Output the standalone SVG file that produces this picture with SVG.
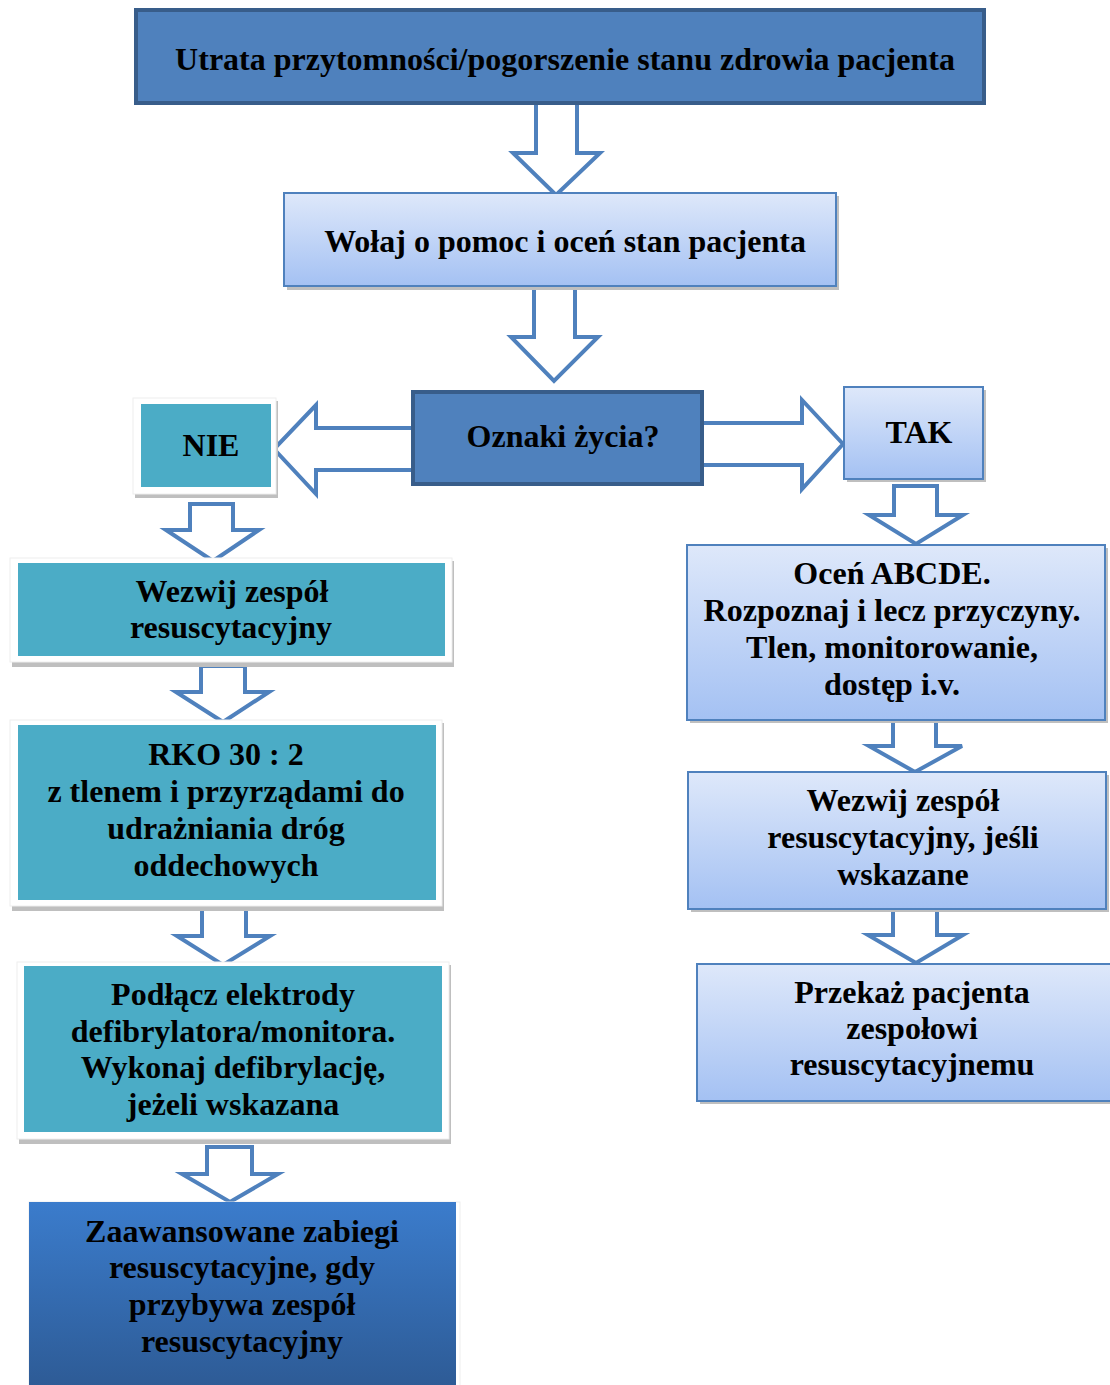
<svg xmlns="http://www.w3.org/2000/svg" width="1110" height="1385" viewBox="0 0 1110 1385">
<defs>
<linearGradient id="light" x1="0" y1="0" x2="0" y2="1">
<stop offset="0" stop-color="#DEE8FA"/>
<stop offset="1" stop-color="#A4C1F3"/>
</linearGradient>
<linearGradient id="deep" x1="0" y1="0" x2="0" y2="1">
<stop offset="0" stop-color="#3B7CCC"/>
<stop offset="1" stop-color="#2D5A94"/>
</linearGradient>
<style>
.t{font-family:"Liberation Serif","Times New Roman",serif;font-weight:bold;font-size:32px;fill:#000;text-anchor:middle}
.dark{fill:#4F81BD;stroke:#385D8A;stroke-width:4}
.light{fill:url(#light);stroke:#4F81BD;stroke-width:2}
.shadow{fill:#BFBFBF}
.panel{fill:#FFFFFF;stroke:#EEEEEE;stroke-width:1}
.teal{fill:#4BACC6}
.arr{fill:#FFFFFF;stroke:#4F81BD;stroke-width:4;stroke-linejoin:miter}
</style>
</defs>
<rect width="1110" height="1385" fill="#FFFFFF"/>

<g id="connectors">
<polygon class="arr" points="536,96 577,96 577,153 600,153 556,195 513,153 536,153"/>
<polygon class="arr" points="534,282 575,282 575,337 598,337 554,381 511,337 534,337"/>
<polygon class="arr" points="416,428 316,428 316,405 274,449 316,494 316,470 416,470"/>
<polygon class="arr" points="700,423 802,423 802,400 843,444 802,489 802,465 700,465"/>
<polygon class="arr" points="190,504 233,504 233,530 259,530 213,561 166,530 190,530"/>
<polygon class="arr" points="201,666 245,666 245,692 269,692 223,722 176,692 201,692"/>
<polygon class="arr" points="202,909 246,909 246,936 270,936 223,965 177,936 202,936"/>
<polygon class="arr" points="207,1147 252,1147 252,1174 278,1174 230,1202 182,1174 207,1174"/>
<polygon class="arr" points="894,486 937,486 937,515 963,515 916,544 869,515 894,515"/>
<polygon class="arr" points="893,718 936,718 936,746 962,746 915,772 869,746 893,746"/>
<polygon class="arr" points="893,906 937,906 937,935 963,935 916,963 868,935 893,935"/>
</g>

<g id="n-title">
<rect class="dark" x="136" y="10" width="848" height="93"/>
<text class="t" x="565" y="70">Utrata przytomności/pogorszenie stanu zdrowia pacjenta</text>
</g>

<g id="n-wolaj">
<rect class="shadow" x="287" y="196" width="552" height="94"/>
<rect class="light" x="284" y="193" width="552" height="93"/>
<text class="t" x="565" y="252">Wołaj o pomoc i oceń stan pacjenta</text>
</g>

<g id="n-oznaki">
<rect class="dark" x="413" y="392" width="289" height="92"/>
<text class="t" x="563" y="447">Oznaki życia?</text>
</g>

<g id="n-nie">
<rect class="shadow" x="135" y="401" width="143" height="97"/>
<rect class="panel" x="133" y="398" width="143" height="96"/>
<rect class="teal" x="141" y="404" width="130" height="83"/>
<text class="t" x="211" y="456">NIE</text>
</g>

<g id="n-tak">
<rect class="shadow" x="847" y="390" width="139" height="92"/>
<rect class="light" x="844" y="387" width="139" height="92"/>
<text class="t" x="919" y="443">TAK</text>
</g>

<g id="n-wezwij-l">
<rect class="shadow" x="12" y="561" width="442" height="106"/>
<rect class="panel" x="10" y="558" width="442" height="104"/>
<rect class="teal" x="18" y="563" width="427" height="93"/>
<text class="t" x="232" y="602">Wezwij zespół</text>
<text class="t" x="231" y="638">resuscytacyjny</text>
</g>

<g id="n-rko">
<rect class="shadow" x="12" y="723" width="432" height="188"/>
<rect class="panel" x="10" y="720" width="432" height="186"/>
<rect class="teal" x="18" y="725" width="418" height="175"/>
<text class="t" x="226" y="765">RKO 30 : 2</text>
<text class="t" x="226" y="802">z tlenem i przyrządami do</text>
<text class="t" x="226" y="839">udrażniania dróg</text>
<text class="t" x="226" y="876">oddechowych</text>
</g>

<g id="n-podlacz">
<rect class="shadow" x="19" y="965" width="432" height="179"/>
<rect class="panel" x="17" y="962" width="432" height="177"/>
<rect class="teal" x="24" y="966" width="418" height="166"/>
<text class="t" x="233" y="1005">Podłącz elektrody</text>
<text class="t" x="233" y="1042">defibrylatora/monitora.</text>
<text class="t" x="233" y="1078">Wykonaj defibrylację,</text>
<text class="t" x="233" y="1115">jeżeli wskazana</text>
</g>

<g id="n-zaaw">
<rect fill="#FFFFFF" stroke="#EEEEEE" x="29" y="1202" width="431" height="190"/>
<rect fill="url(#deep)" x="29" y="1202" width="427" height="190"/>
<text class="t" x="242" y="1242">Zaawansowane zabiegi</text>
<text class="t" x="242" y="1278">resuscytacyjne, gdy</text>
<text class="t" x="242" y="1315">przybywa zespół</text>
<text class="t" x="242" y="1352">resuscytacyjny</text>
</g>

<g id="n-ocen">
<rect class="shadow" x="690" y="548" width="418" height="175"/>
<rect class="light" x="687" y="545" width="418" height="175"/>
<text class="t" x="892" y="584">Oceń ABCDE.</text>
<text class="t" x="892" y="621">Rozpoznaj i lecz przyczyny.</text>
<text class="t" x="892" y="658">Tlen, monitorowanie,</text>
<text class="t" x="892" y="695">dostęp i.v.</text>
</g>

<g id="n-wezwij-r">
<rect class="shadow" x="691" y="775" width="418" height="137"/>
<rect class="light" x="688" y="772" width="418" height="137"/>
<text class="t" x="903" y="811">Wezwij zespół</text>
<text class="t" x="903" y="848">resuscytacyjny, jeśli</text>
<text class="t" x="903" y="885">wskazane</text>
</g>

<g id="n-przekaz">
<rect class="shadow" x="700" y="967" width="420" height="137"/>
<rect class="light" x="697" y="964" width="420" height="137"/>
<text class="t" x="912" y="1003">Przekaż pacjenta</text>
<text class="t" x="912" y="1039">zespołowi</text>
<text class="t" x="912" y="1075">resuscytacyjnemu</text>
</g>
</svg>
